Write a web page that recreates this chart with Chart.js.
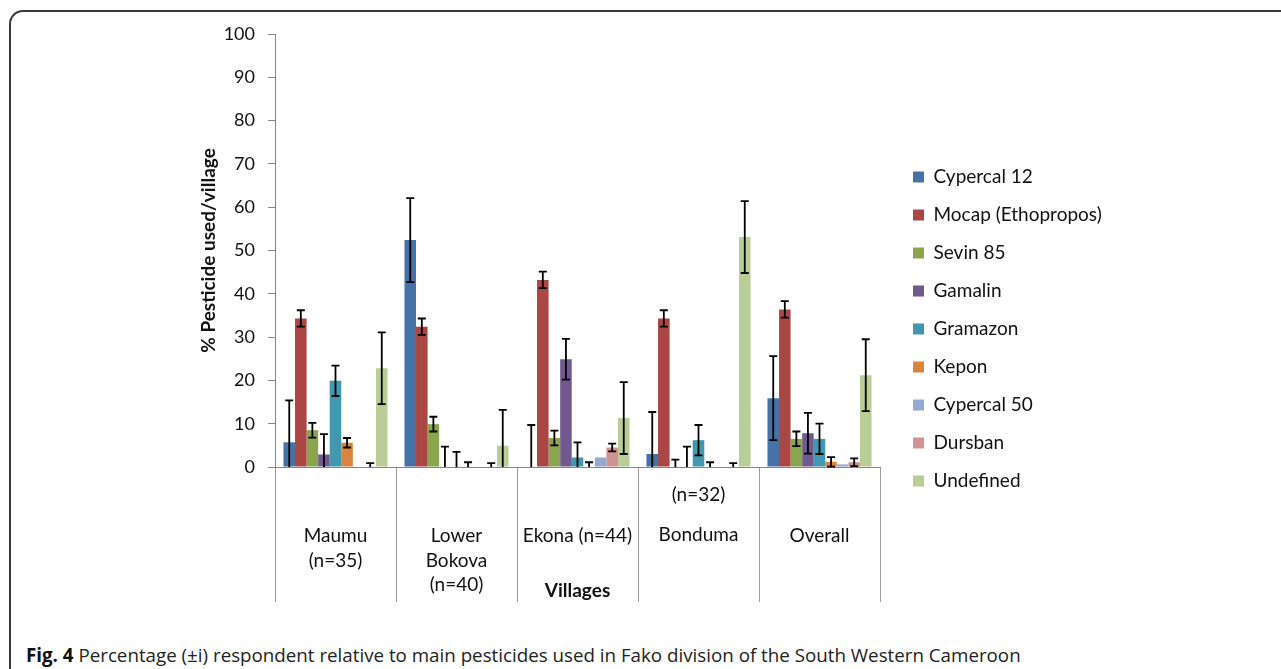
<!DOCTYPE html>
<html><head><meta charset="utf-8">
<script src="https://cdn.jsdelivr.net/npm/chart.js@4.4.1/dist/chart.umd.min.js"></script>
<style>
html,body{margin:0;padding:0;background:#fff;overflow:hidden;}
body{width:1281px;height:669px;position:relative;}
#frame{position:absolute;left:9px;top:10px;width:1400px;height:800px;border-left:2px solid #3a3a3a;border-top:2px solid #3a3a3a;border-top-left-radius:14px;}
#wrap{position:absolute;left:0;top:0;width:1281px;height:640px;}
#caption{position:absolute;left:26px;top:642px;font-family:'Open Sans';font-size:18.75px;color:#222;white-space:nowrap;line-height:26px;}
#caption b{font-weight:700;color:#111;}
</style></head>
<body>
<div id="frame"></div>
<div id="wrap"><canvas id="c" width="1281" height="640"></canvas></div>
<div id="caption"><b>Fig. 4</b> Percentage (±i) respondent relative to main pesticides used in Fako division of the South Western Cameroon</div>
<script>
// ---- data ----
const categories = [["Maumu","(n=35)"], ["Lower","Bokova","(n=40)"], ["Ekona (n=44)"], ["(n=32)","Bonduma"], ["Overall"]];
const seriesNames = ["Cypercal 12","Mocap (Ethopropos)","Sevin 85","Gamalin","Gramazon","Kepon","Cypercal 50","Dursban","Undefined"];
const cypercal12 = [5.7, 52.4, 0, 3.0, 15.9];
const mocap      = [34.3, 32.4, 43.2, 34.3, 36.4];
const sevin85    = [8.5, 9.9, 6.7, 0, 6.5];
const gamalin    = [2.9, 0, 24.9, 0, 7.8];
const gramazon   = [19.9, 0, 2.2, 6.2, 6.5];
const kepon      = [5.6, 0, 0, 0, 1.2];
const cypercal50 = [0, 0, 2.2, 0, 0.6];
const dursban    = [0, 0, 4.5, 0, 1.1];
const undefinedP = [22.8, 4.9, 11.3, 53.1, 21.2];
const cypercal12Err = [9.7, 9.7, 9.7, 9.7, 9.7];
const mocapErr      = [1.9, 1.9, 1.9, 1.9, 1.9];
const sevin85Err    = [1.7, 1.7, 1.7, 1.7, 1.7];
const gamalinErr    = [4.7, 4.7, 4.7, 4.7, 4.7];
const gramazonErr   = [3.5, 3.5, 3.5, 3.5, 3.5];
const keponErr      = [1.1, 1.1, 1.1, 1.1, 1.1];
const cypercal50Err = [0, 0, 0, 0, 0];
const dursbanErr    = [0.9, 0.9, 0.9, 0.9, 0.9];
const undefinedErr  = [8.3, 8.3, 8.3, 8.3, 8.3];
const yTicks = [0,10,20,30,40,50,60,70,80,90,100];

const values = [cypercal12, mocap, sevin85, gamalin, gramazon, kepon, cypercal50, dursban, undefinedP];
const errors = [cypercal12Err, mocapErr, sevin85Err, gamalinErr, gramazonErr, keponErr, cypercal50Err, dursbanErr, undefinedErr];
const colors = ['#4572A7','#AA4643','#89A54E','#71588F','#4198AF','#DB843D','#93A9CF','#D19392','#B9CD96'];

const FONT = 'Lato';
const LEG_FONT = 19, LEG_PAD = 19, BOX = 11;
const PLOT_RIGHT = 880, PLOT_LEFT = 275;

const errorBars = {
  id: 'errorBars',
  afterDatasetsDraw(chart) {
    const ctx = chart.ctx, ys = chart.scales.y;
    ctx.save();
    ctx.strokeStyle = '#000'; ctx.lineWidth = 1.8;
    chart.data.datasets.forEach((ds, di) => {
      const meta = chart.getDatasetMeta(di);
      meta.data.forEach((bar, i) => {
        const v = ds.data[i], e = ds.errors[i];
        if (!e) return;
        const yt = ys.getPixelForValue(v + e);
        const yb = ys.getPixelForValue(Math.max(0, v - e));
        const x = bar.x, c = 4;
        ctx.beginPath();
        ctx.moveTo(x, yt); ctx.lineTo(x, yb);
        ctx.moveTo(x - c, yt); ctx.lineTo(x + c, yt);
        if (v - e > 0) { ctx.moveTo(x - c, yb); ctx.lineTo(x + c, yb); }
        ctx.stroke();
      });
    });
    ctx.restore();
  }
};
const legendShift = {
  id: 'legendShift',
  afterLayout(chart) {
    const lg = chart.legend; if (!lg) return;
    const d = (PLOT_RIGHT + 33) - (lg.left + LEG_PAD);
    lg.left += d; lg.right += d;
  }
};

function build() {
  const mctx = document.createElement('canvas').getContext('2d');
  mctx.font = LEG_FONT + 'px ' + FONT;
  let maxW = 0; seriesNames.forEach(s => { maxW = Math.max(maxW, mctx.measureText(s).width); });
  const legendWidth = LEG_PAD + BOX + LEG_FONT/2 + maxW + 10;
  const padRight = 1281 - PLOT_RIGHT - legendWidth;

  new Chart(document.getElementById('c'), {
    type: 'bar',
    data: {
      labels: categories,
      datasets: seriesNames.map((n, k) => ({
        label: n, data: values[k], errors: errors[k],
        backgroundColor: colors[k], borderWidth: 0,
        categoryPercentage: 0.86, barPercentage: 1.0
      }))
    },
    options: {
      responsive: false, animation: false,
      layout: { padding: { top: 34, left: 0, right: padRight, bottom: 16 } },
      plugins: {
        tooltip: { enabled: false },
        legend: {
          position: 'right',
          labels: { boxWidth: BOX, boxHeight: BOX, padding: LEG_PAD, color: '#111',
            font: { family: FONT, size: LEG_FONT } }
        }
      },
      scales: {
        x: {
          offset: true,
          border: { display: true, color: '#868686', width: 1 },
          grid: { display: true, drawOnChartArea: false, offset: true, tickLength: 135, color: '#9a9a9a' },
          ticks: {
            padding: -127, color: '#111', maxRotation: 0, autoSkip: false,
            font: (c) => ({ family: FONT, size: 19, lineHeight: c.index === 3 ? '40px' : '24.5px' }),
            callback: (val, idx) => idx === 3 ? categories[idx] : ['', ''].concat(categories[idx])
          },
          title: { display: true, text: 'Villages', color: '#111',
            font: { family: FONT, size: 19, weight: 'bold' }, padding: { top: 0, bottom: 22 } },
          afterFit: (s) => { s.height = 157; }
        },
        y: {
          min: 0, max: 100,
          afterBuildTicks: (s) => { s.ticks = yTicks.map(v => ({ value: v })); },
          border: { display: true, color: '#868686', width: 1 },
          grid: { display: true, drawOnChartArea: false, tickLength: 7, color: '#868686' },
          ticks: { padding: 13, color: '#111', font: { family: FONT, size: 18 } },
          title: { display: true, text: '% Pesticide used/village', color: '#111',
            font: { family: FONT, size: 19, weight: 'bold' }, padding: { top: 197, bottom: 0 } },
          afterFit: (s) => { s.width = PLOT_LEFT; }
        }
      }
    },
    plugins: [errorBars, legendShift]
  });
}
if (document.fonts && document.fonts.load) {
  Promise.all([document.fonts.load('19px Lato'), document.fonts.load('bold 19px Lato')]).then(build, build);
} else { build(); }
</script>
</body></html>
